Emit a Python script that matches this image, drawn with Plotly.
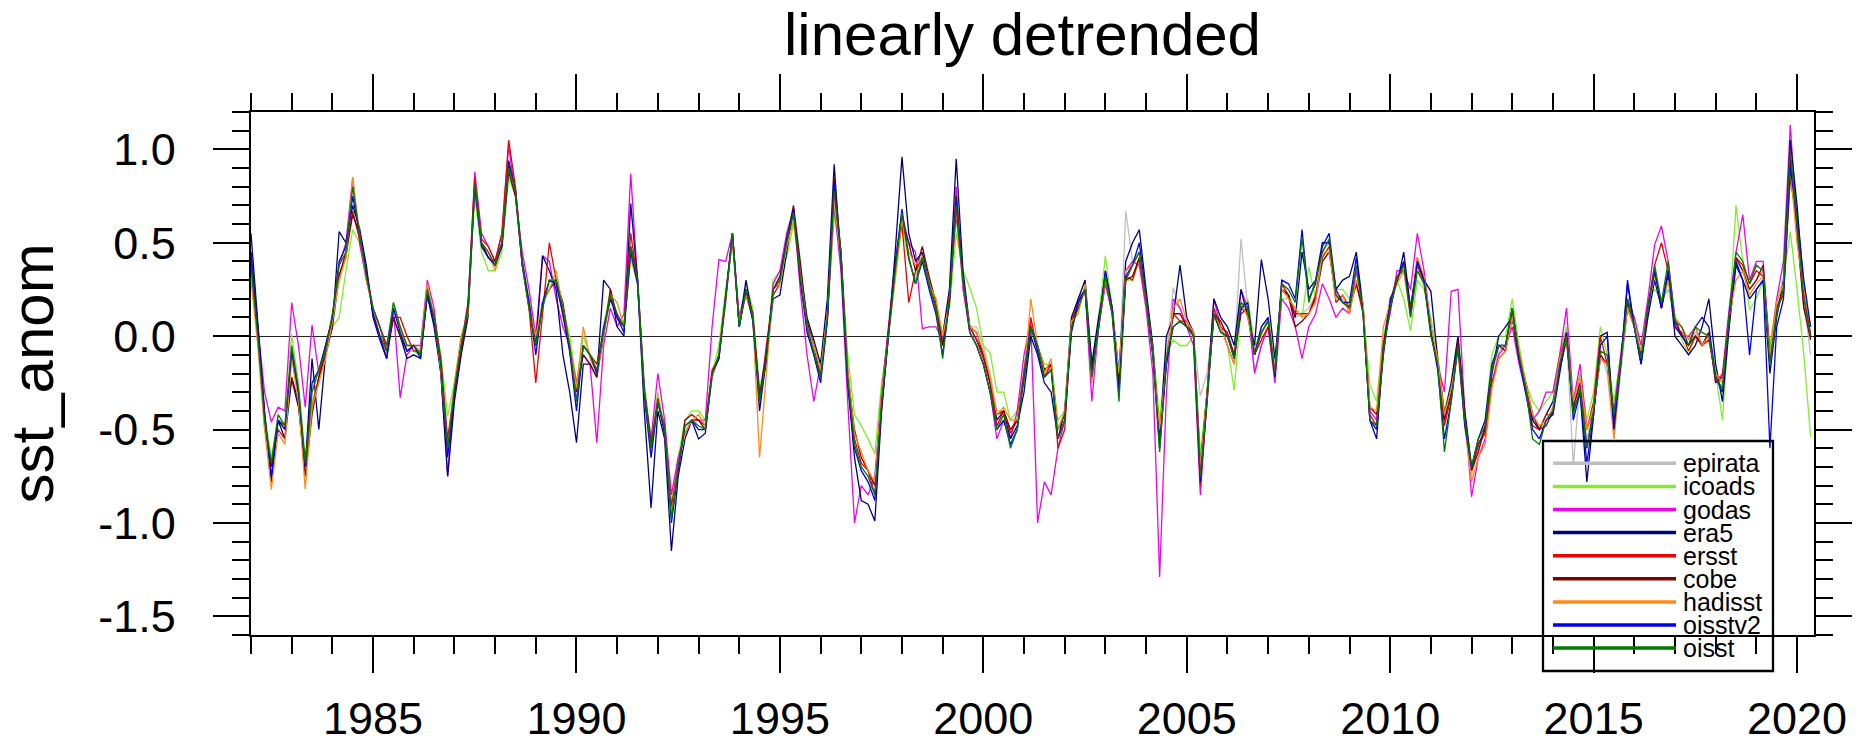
import numpy as np
import plotly.graph_objects as go

# ---------------- data (bi-monthly samples: Jan, Mar, May, Jul, Sep, Nov) ----------------
START_YEAR = 1982
STEP_MONTHS = 2

series_names = ["epirata", "icoads", "godas", "era5", "ersst", "cobe", "hadisst", "oisstv2", "oisst"]
series_colors = ["#BEBEBE", "#80EE2A", "#F000F0", "#00007F", "#EE0000", "#7F0000", "#FF8A1C", "#0000EE", "#007A00"]

epirata_start = 1999
epirata = [
    0.00, 0.25, 0.80, 0.30, 0.05, 0.05,
    -0.05, -0.20, -0.40, -0.40, -0.50, -0.45,
    -0.20, 0.05, -0.05, -0.20, -0.15, -0.55,
    -0.45, 0.05, 0.15, 0.25, -0.20, 0.05,
    0.32, 0.15, -0.25, 0.67, 0.40, 0.45,
    0.20, -0.10, -0.50, -0.10, 0.26, 0.15,
    0.05, 0.00, -0.32, -0.20, 0.12, 0.05,
    0.00, -0.10, 0.52, 0.15, -0.18, -0.05,
    0.05, -0.20, 0.30, 0.20, 0.10, 0.12,
    0.15, 0.22, 0.45, 0.50, 0.20, 0.20,
    0.15, 0.30, 0.15, -0.40, -0.45, -0.05,
    0.15, 0.30, 0.38, 0.12, 0.40, 0.30,
    0.05, -0.15, -0.45, -0.30, -0.05, -0.45,
    -0.75, -0.60, -0.50, -0.20, -0.08, -0.05,
    0.12, -0.10, -0.28, -0.45, -0.50, -0.45,
    -0.40, -0.15, 0.00, -0.69, -0.25, -0.55,
    -0.40, -0.08, -0.20, -0.55, -0.20, 0.15,
    0.05, -0.15, 0.10, 0.35, 0.15, 0.30,
    0.05, 0.00, -0.05, 0.02, -0.05, 0.00,
    -0.20, -0.25, 0.10, 0.40, 0.35, 0.25,
    0.30, 0.35, -0.10, 0.15, 0.25, 0.95,
    0.55, 0.20, -0.10,
]

icoads = [
    0.35, 0.00, -0.42, -0.65, -0.45, -0.50,
    0.01, -0.25, -0.65, -0.35, -0.25, -0.05,
    0.05, 0.10, 0.35, 0.57, 0.50, 0.35,
    0.12, 0.00, -0.05, 0.18, 0.05, -0.08,
    -0.08, -0.10, 0.22, 0.10, -0.10, -0.43,
    -0.25, 0.00, 0.12, 0.75, 0.45, 0.35,
    0.35, 0.45, 0.85, 0.75, 0.40, 0.20,
    0.00, 0.15, 0.30, 0.30, 0.15, 0.00,
    -0.25, 0.00, -0.10, -0.15, 0.05, 0.25,
    0.10, 0.05, 0.45, 0.30, -0.25, -0.55,
    -0.30, -0.50, -0.90, -0.65, -0.45, -0.40,
    -0.40, -0.45, -0.20, -0.05, 0.25, 0.50,
    0.10, 0.28, 0.15, -0.28, -0.10, 0.30,
    0.35, 0.42, 0.60, 0.35, 0.05, -0.05,
    -0.15, 0.10, 0.65, 0.45, -0.10, -0.42,
    -0.48, -0.55, -0.63, -0.25, 0.00, 0.30,
    0.60, 0.40, 0.30, 0.45, 0.30, 0.20,
    0.00, 0.15, 0.55, 0.35, 0.26, 0.15,
    -0.05, -0.09, -0.30, -0.30, -0.45, -0.40,
    -0.25, 0.05, -0.05, -0.15, -0.15, -0.45,
    -0.40, 0.10, 0.20, 0.30, -0.15, 0.10,
    0.43, 0.15, -0.20, 0.30, 0.30, 0.40,
    0.15, -0.05, -0.45, -0.10, -0.02, -0.05,
    -0.05, 0.00, -0.63, -0.30, 0.10, 0.05,
    -0.05, -0.29, 0.15, 0.20, -0.05, 0.00,
    0.10, -0.15, 0.20, 0.20, 0.15, 0.10,
    0.37, 0.20, 0.40, 0.45, 0.25, 0.25,
    0.20, 0.35, 0.15, -0.26, -0.35, 0.00,
    0.15, 0.30, 0.20, 0.03, 0.30, 0.25,
    0.10, -0.10, -0.40, -0.25, 0.00, -0.40,
    -0.70, -0.55, -0.45, -0.10, 0.00, 0.00,
    0.20, -0.05, -0.25, -0.35, -0.40, -0.35,
    -0.30, -0.10, 0.05, -0.35, -0.20, -0.45,
    -0.30, 0.05, -0.10, -0.35, -0.10, 0.15,
    0.10, -0.10, 0.20, 0.25, 0.20, 0.25,
    0.10, -0.02, -0.10, 0.00, -0.05, 0.02,
    -0.20, -0.45, 0.10, 0.70, 0.40, 0.14,
    0.20, 0.30, -0.05, 0.20, 0.30, 0.56,
    0.25, -0.10, -0.54,
]

godas = [
    0.45, 0.05, -0.30, -0.46, -0.38, -0.40,
    0.18, -0.05, -0.38, 0.06, -0.20, -0.10,
    0.10, 0.38, 0.50, 0.85, 0.50, 0.30,
    0.15, 0.05, -0.05, 0.15, -0.33, -0.10,
    -0.05, -0.05, 0.30, 0.15, -0.20, -0.75,
    -0.30, -0.08, 0.15, 0.88, 0.55, 0.48,
    0.40, 0.55, 1.02, 0.75, 0.45, 0.25,
    0.00, 0.43, 0.40, 0.20, 0.05, -0.05,
    -0.25, -0.10, -0.15, -0.57, -0.05, 0.15,
    0.05, 0.12, 0.87, 0.30, -0.30, -0.55,
    -0.20, -0.45, -0.85, -0.65, -0.52, -0.45,
    -0.45, -0.45, 0.05, 0.41, 0.40, 0.55,
    0.10, 0.25, 0.10, -0.30, -0.15, 0.28,
    0.35, 0.55, 0.68, 0.25, -0.10, -0.35,
    -0.15, 0.10, 0.70, 0.35, -0.35, -1.00,
    -0.80, -0.85, -0.75, -0.30, 0.05, 0.40,
    0.65, 0.50, 0.45, 0.04, 0.05, 0.05,
    -0.02, 0.20, 0.80, 0.25, 0.02, -0.05,
    -0.15, -0.30, -0.55, -0.45, -0.55, -0.40,
    -0.10, 0.08, -1.00, -0.78, -0.85, -0.60,
    -0.45, 0.05, 0.20, 0.25, -0.35, 0.05,
    0.28, 0.12, -0.30, 0.35, 0.40, 0.38,
    0.15, -0.20, -1.29, -0.30, 0.20, 0.15,
    0.05, -0.05, -0.85, -0.35, 0.20, 0.05,
    -0.05, -0.15, 0.25, 0.15, -0.20, -0.05,
    0.05, -0.25, 0.20, 0.15, 0.05, -0.12,
    0.05, 0.12, 0.28, 0.20, 0.10, 0.15,
    0.12, 0.35, 0.15, -0.40, -0.45, -0.05,
    0.12, 0.35, 0.35, 0.25, 0.55, 0.35,
    0.05, -0.15, -0.30, 0.24, 0.25, -0.40,
    -0.86, -0.65, -0.55, -0.25, -0.10, -0.05,
    0.05, -0.15, -0.30, -0.45, -0.40, -0.30,
    -0.30, -0.10, 0.15, -0.35, -0.15, -0.50,
    -0.40, -0.12, -0.15, -0.40, -0.10, 0.20,
    0.10, -0.05, 0.20, 0.49, 0.59, 0.40,
    0.10, 0.00, 0.00, 0.05, -0.05, 0.02,
    -0.25, -0.20, 0.15, 0.45, 0.65, 0.30,
    0.40, 0.40, -0.10, 0.20, 0.40, 1.13,
    0.60, 0.15, 0.05,
]

era5 = [
    0.55, 0.08, -0.40, -0.78, -0.45, -0.55,
    -0.23, -0.38, -0.70, -0.12, -0.50, -0.10,
    0.05, 0.56, 0.50, 0.70, 0.58, 0.38,
    0.10, -0.02, -0.12, 0.10, 0.00, -0.12,
    -0.10, -0.12, 0.22, 0.05, -0.20, -0.75,
    -0.35, -0.10, 0.10, 0.82, 0.50, 0.42,
    0.40, 0.50, 0.94, 0.78, 0.38, 0.15,
    -0.05, 0.43, 0.35, 0.25, -0.10, -0.30,
    -0.57, -0.15, -0.15, -0.22, 0.30, 0.25,
    0.05, 0.00, 0.71, 0.30, -0.40, -0.92,
    -0.40, -0.55, -1.15, -0.75, -0.55, -0.45,
    -0.55, -0.52, -0.20, -0.12, 0.22, 0.55,
    0.05, 0.30, 0.10, -0.40, -0.12, 0.20,
    0.22, 0.45, 0.68, 0.35, 0.10, -0.02,
    -0.15, 0.20, 0.92, 0.40, -0.25, -0.65,
    -0.88, -0.90, -0.99, -0.40, 0.00, 0.45,
    0.96, 0.55, 0.40, 0.45, 0.28, 0.15,
    0.00, 0.25, 0.95, 0.35, 0.05, -0.02,
    -0.10, -0.25, -0.45, -0.40, -0.55, -0.48,
    -0.30, 0.00, -0.10, -0.25, -0.30, -0.55,
    -0.40, 0.10, 0.20, 0.30, -0.15, 0.10,
    0.30, 0.15, -0.20, 0.40, 0.50, 0.57,
    0.25, -0.05, -0.55, 0.00, 0.10, 0.38,
    0.10, 0.02, -0.70, -0.30, 0.20, 0.10,
    0.05, -0.05, 0.25, 0.10, -0.05, 0.41,
    0.20, -0.12, 0.25, 0.22, 0.10, 0.45,
    0.25, 0.30, 0.50, 0.50, 0.25, 0.30,
    0.32, 0.45, 0.15, -0.45, -0.55, -0.05,
    0.20, 0.28, 0.45, 0.15, 0.40, 0.30,
    0.24, -0.12, -0.42, -0.25, 0.00, -0.40,
    -0.70, -0.58, -0.50, -0.20, 0.00, 0.05,
    0.10, -0.12, -0.25, -0.45, -0.50, -0.42,
    -0.35, -0.15, 0.00, -0.40, -0.30, -0.78,
    -0.42, 0.00, 0.02, -0.50, -0.15, 0.28,
    0.05, -0.15, 0.10, 0.30, 0.15, 0.35,
    0.00, -0.05, -0.10, -0.05, 0.05, 0.20,
    -0.15, -0.35, 0.05, 0.38, 0.30, 0.20,
    0.25, 0.30, -0.20, 0.10, 0.30, 1.05,
    0.70, 0.25, 0.00,
]

ersst = [
    0.38, 0.00, -0.48, -0.70, -0.50, -0.55,
    -0.08, -0.32, -0.70, -0.38, -0.22, -0.05,
    0.10, 0.33, 0.42, 0.67, 0.52, 0.35,
    0.15, 0.05, -0.05, 0.10, 0.10, 0.00,
    -0.08, -0.08, 0.22, 0.12, -0.12, -0.55,
    -0.28, -0.05, 0.18, 0.85, 0.52, 0.48,
    0.40, 0.55, 1.05, 0.80, 0.40, 0.15,
    -0.25, 0.12, 0.50, 0.30, 0.10, -0.08,
    -0.35, -0.05, -0.10, -0.15, 0.02, 0.20,
    0.10, 0.05, 0.55, 0.30, -0.30, -0.60,
    -0.33, -0.52, -0.92, -0.68, -0.52, -0.45,
    -0.45, -0.48, -0.18, -0.12, 0.18, 0.55,
    0.08, 0.22, 0.10, -0.35, -0.05, 0.22,
    0.28, 0.52, 0.68, 0.32, 0.05, -0.10,
    -0.22, 0.12, 0.78, 0.45, -0.18, -0.55,
    -0.68, -0.72, -0.85, -0.38, 0.02, 0.38,
    0.60, 0.18, 0.35, 0.42, 0.28, 0.15,
    -0.05, 0.22, 0.65, 0.28, 0.05, -0.02,
    -0.12, -0.25, -0.48, -0.40, -0.52, -0.45,
    -0.18, 0.10, -0.08, -0.22, -0.15, -0.60,
    -0.50, 0.08, 0.18, 0.25, -0.22, 0.05,
    0.30, 0.12, -0.28, 0.32, 0.30, 0.42,
    0.18, -0.10, -0.55, -0.12, 0.12, 0.08,
    0.08, 0.00, -0.80, -0.35, 0.15, 0.05,
    0.02, -0.10, 0.15, 0.12, -0.10, -0.02,
    0.05, -0.22, 0.28, 0.22, 0.12, 0.12,
    0.12, 0.22, 0.42, 0.48, 0.18, 0.22,
    0.15, 0.28, 0.12, -0.42, -0.48, -0.08,
    0.18, 0.32, 0.35, 0.15, 0.38, 0.28,
    0.05, -0.15, -0.48, -0.32, -0.05, -0.45,
    -0.72, -0.58, -0.52, -0.25, -0.12, -0.08,
    0.15, -0.10, -0.30, -0.48, -0.50, -0.42,
    -0.42, -0.12, 0.02, -0.38, -0.25, -0.50,
    -0.35, 0.00, -0.15, -0.42, -0.15, 0.15,
    0.05, -0.10, 0.15, 0.38, 0.50, 0.35,
    0.05, 0.02, -0.08, 0.00, -0.05, -0.02,
    -0.22, -0.22, 0.12, 0.42, 0.38, 0.28,
    0.35, 0.32, -0.12, 0.15, 0.22, 0.85,
    0.60, 0.25, 0.00,
]

cobe = [
    0.42, 0.05, -0.45, -0.70, -0.45, -0.48,
    -0.22, -0.35, -0.75, -0.42, -0.22, -0.10,
    0.05, 0.32, 0.45, 0.65, 0.55, 0.35,
    0.12, 0.00, -0.08, 0.10, 0.00, -0.08,
    -0.05, -0.10, 0.25, 0.08, -0.18, -0.62,
    -0.32, -0.08, 0.12, 0.80, 0.50, 0.42,
    0.38, 0.48, 0.88, 0.75, 0.38, 0.18,
    -0.05, 0.18, 0.25, 0.30, 0.18, -0.05,
    -0.30, -0.10, -0.15, -0.22, 0.00, 0.25,
    0.10, 0.05, 0.48, 0.32, -0.28, -0.58,
    -0.35, -0.48, -0.92, -0.72, -0.45, -0.42,
    -0.45, -0.50, -0.22, -0.10, 0.22, 0.52,
    0.05, 0.25, 0.12, -0.32, -0.10, 0.25,
    0.32, 0.50, 0.70, 0.40, 0.08, -0.05,
    -0.22, 0.10, 0.85, 0.45, -0.22, -0.50,
    -0.65, -0.72, -0.80, -0.32, 0.02, 0.38,
    0.62, 0.50, 0.35, 0.48, 0.32, 0.18,
    -0.05, 0.18, 0.75, 0.30, 0.05, 0.02,
    -0.10, -0.25, -0.42, -0.40, -0.50, -0.45,
    -0.22, 0.05, -0.05, -0.18, -0.15, -0.50,
    -0.42, 0.05, 0.18, 0.25, -0.18, 0.05,
    0.35, 0.15, -0.25, 0.30, 0.32, 0.42,
    0.22, -0.08, -0.52, -0.15, 0.12, 0.12,
    0.05, 0.02, -0.72, -0.30, 0.12, 0.08,
    0.00, -0.10, 0.12, 0.15, -0.10, 0.02,
    0.08, -0.20, 0.25, 0.22, 0.05, 0.08,
    0.12, 0.20, 0.40, 0.45, 0.22, 0.18,
    0.15, 0.28, 0.15, -0.38, -0.42, -0.05,
    0.15, 0.30, 0.40, 0.12, 0.42, 0.30,
    0.02, -0.15, -0.45, -0.30, -0.02, -0.42,
    -0.72, -0.62, -0.48, -0.18, -0.05, -0.08,
    0.10, -0.12, -0.25, -0.42, -0.50, -0.48,
    -0.40, -0.18, -0.02, -0.38, -0.25, -0.60,
    -0.40, -0.10, -0.15, -0.45, -0.15, 0.18,
    0.05, -0.10, 0.15, 0.35, 0.15, 0.32,
    0.08, 0.00, -0.05, 0.00, -0.05, 0.02,
    -0.25, -0.22, 0.08, 0.42, 0.35, 0.25,
    0.30, 0.38, -0.12, 0.15, 0.25, 0.95,
    0.55, 0.15, -0.02,
]

hadisst = [
    0.30, -0.05, -0.50, -0.82, -0.52, -0.58,
    -0.12, -0.35, -0.82, -0.38, -0.25, -0.12,
    0.08, 0.30, 0.42, 0.85, 0.55, 0.30,
    0.15, 0.00, -0.10, 0.15, 0.05, -0.05,
    -0.05, -0.08, 0.28, 0.10, -0.18, -0.62,
    -0.25, 0.00, 0.12, 0.80, 0.50, 0.45,
    0.35, 0.50, 0.92, 0.78, 0.40, 0.15,
    0.00, 0.18, 0.25, 0.35, 0.15, -0.05,
    -0.28, 0.05, -0.12, -0.20, 0.00, 0.22,
    0.18, 0.05, 0.42, 0.28, -0.30, -0.65,
    -0.35, -0.50, -0.95, -0.70, -0.52, -0.45,
    -0.42, -0.48, -0.22, -0.10, 0.22, 0.52,
    0.08, 0.22, 0.10, -0.65, -0.20, 0.25,
    0.28, 0.48, 0.62, 0.35, 0.05, -0.05,
    -0.18, 0.12, 0.72, 0.42, -0.18, -0.52,
    -0.62, -0.72, -0.78, -0.30, 0.00, 0.32,
    0.62, 0.45, 0.38, 0.42, 0.28, 0.20,
    0.00, 0.18, 0.68, 0.28, 0.05, 0.02,
    -0.08, -0.22, -0.42, -0.38, -0.45, -0.45,
    -0.22, 0.20, -0.05, -0.20, -0.12, -0.50,
    -0.40, 0.08, 0.12, 0.28, -0.25, 0.05,
    0.30, 0.15, -0.20, 0.35, 0.38, 0.45,
    0.20, -0.08, -0.50, -0.15, 0.15, 0.20,
    0.08, 0.02, -0.70, -0.30, 0.10, 0.05,
    -0.05, -0.15, 0.18, 0.10, -0.08, 0.05,
    0.10, -0.18, 0.25, 0.20, 0.15, 0.10,
    0.12, 0.18, 0.45, 0.45, 0.20, 0.22,
    0.12, 0.30, 0.18, -0.38, -0.40, 0.05,
    0.18, 0.28, 0.35, 0.10, 0.42, 0.32,
    0.05, -0.12, -0.42, -0.28, -0.08, -0.48,
    -0.78, -0.65, -0.58, -0.28, -0.12, -0.08,
    0.10, -0.08, -0.25, -0.42, -0.48, -0.45,
    -0.38, -0.12, -0.02, -0.35, -0.22, -0.50,
    -0.38, -0.12, -0.15, -0.55, -0.15, 0.15,
    0.05, -0.08, 0.15, 0.32, 0.18, 0.30,
    0.10, 0.05, -0.02, 0.05, -0.05, 0.00,
    -0.20, -0.25, 0.10, 0.30, 0.35, 0.22,
    0.28, 0.32, -0.10, 0.18, 0.28, 0.90,
    0.50, 0.25, 0.05,
]

oisstv2 = [
    0.45, 0.05, -0.42, -0.75, -0.45, -0.50,
    -0.08, -0.30, -0.70, -0.25, -0.18, -0.05,
    0.10, 0.40, 0.48, 0.75, 0.55, 0.35,
    0.12, 0.00, -0.12, 0.15, 0.02, -0.08,
    -0.05, -0.12, 0.22, 0.08, -0.15, -0.65,
    -0.30, -0.05, 0.15, 0.80, 0.48, 0.42,
    0.38, 0.48, 0.92, 0.78, 0.40, 0.18,
    -0.10, 0.18, 0.30, 0.28, 0.12, -0.08,
    -0.40, -0.05, -0.10, -0.20, 0.05, 0.20,
    0.10, 0.02, 0.45, 0.28, -0.32, -0.65,
    -0.35, -0.52, -1.00, -0.72, -0.48, -0.45,
    -0.50, -0.50, -0.20, -0.12, 0.20, 0.55,
    0.05, 0.25, 0.08, -0.35, -0.10, 0.25,
    0.30, 0.52, 0.68, 0.30, 0.02, -0.10,
    -0.25, 0.08, 0.82, 0.42, -0.25, -0.60,
    -0.72, -0.78, -0.88, -0.38, 0.00, 0.38,
    0.68, 0.42, 0.28, 0.40, 0.25, 0.12,
    -0.10, 0.18, 0.72, 0.30, 0.02, -0.05,
    -0.15, -0.30, -0.50, -0.45, -0.58, -0.50,
    -0.22, 0.05, -0.08, -0.22, -0.18, -0.55,
    -0.45, 0.02, 0.18, 0.25, -0.20, 0.05,
    0.35, 0.15, -0.30, 0.32, 0.38, 0.50,
    0.22, -0.10, -0.60, -0.15, 0.05, 0.08,
    0.05, 0.00, -0.78, -0.35, 0.12, 0.02,
    0.00, -0.12, 0.15, 0.18, -0.10, 0.05,
    0.10, -0.22, 0.30, 0.28, 0.20, 0.57,
    0.20, 0.28, 0.48, 0.55, 0.25, 0.18,
    0.18, 0.42, 0.12, -0.45, -0.50, -0.10,
    0.18, 0.30, 0.40, 0.12, 0.40, 0.30,
    0.02, -0.18, -0.55, -0.35, -0.05, -0.48,
    -0.70, -0.55, -0.45, -0.15, -0.05, -0.05,
    0.15, -0.12, -0.30, -0.50, -0.55, -0.45,
    -0.42, -0.20, 0.02, -0.45, -0.30, -0.68,
    -0.42, -0.05, 0.00, -0.50, -0.15, 0.30,
    0.05, -0.15, 0.15, 0.35, 0.15, 0.35,
    0.05, 0.00, -0.05, 0.05, 0.10, 0.05,
    -0.22, -0.30, 0.10, 0.40, 0.30, -0.10,
    0.25, 0.30, -0.60, 0.05, 0.20, 0.90,
    0.65, 0.30, 0.05,
]

oisst = [
    0.38, 0.00, -0.45, -0.68, -0.42, -0.48,
    -0.05, -0.28, -0.68, -0.30, -0.18, -0.08,
    0.12, 0.38, 0.45, 0.80, 0.55, 0.32,
    0.15, 0.05, -0.08, 0.18, 0.05, -0.05,
    -0.05, -0.10, 0.25, 0.10, -0.15, -0.60,
    -0.28, -0.05, 0.15, 0.82, 0.50, 0.45,
    0.38, 0.50, 0.90, 0.78, 0.38, 0.15,
    -0.05, 0.15, 0.30, 0.30, 0.15, -0.05,
    -0.35, -0.05, -0.10, -0.18, 0.02, 0.22,
    0.12, 0.05, 0.48, 0.30, -0.30, -0.60,
    -0.35, -0.50, -0.98, -0.70, -0.48, -0.45,
    -0.48, -0.50, -0.20, -0.10, 0.20, 0.55,
    0.05, 0.25, 0.10, -0.35, -0.12, 0.25,
    0.30, 0.50, 0.66, 0.32, 0.05, -0.08,
    -0.22, 0.10, 0.78, 0.45, -0.22, -0.58,
    -0.70, -0.75, -0.85, -0.35, 0.00, 0.35,
    0.66, 0.42, 0.28, 0.42, 0.28, 0.15,
    -0.12, 0.20, 0.70, 0.30, 0.02, -0.05,
    -0.15, -0.30, -0.50, -0.42, -0.60, -0.50,
    -0.20, 0.05, -0.05, -0.22, -0.18, -0.55,
    -0.45, 0.05, 0.15, 0.25, -0.22, 0.05,
    0.32, 0.12, -0.35, 0.30, 0.38, 0.45,
    0.20, -0.10, -0.62, -0.12, 0.05, 0.08,
    0.05, 0.00, -0.75, -0.35, 0.12, 0.02,
    0.00, -0.12, 0.18, 0.15, -0.10, 0.02,
    0.08, -0.20, 0.28, 0.25, 0.18, 0.53,
    0.18, 0.30, 0.45, 0.52, 0.22, 0.18,
    0.15, 0.38, 0.12, -0.45, -0.48, -0.08,
    0.15, 0.30, 0.38, 0.10, 0.35, 0.28,
    0.00, -0.15, -0.62, -0.35, -0.05, -0.45,
    -0.70, -0.55, -0.48, -0.18, -0.05, -0.05,
    0.15, -0.10, -0.28, -0.55, -0.58, -0.45,
    -0.40, -0.15, 0.00, -0.42, -0.28, -0.60,
    -0.40, -0.08, -0.10, -0.42, -0.15, 0.20,
    0.05, -0.12, 0.15, 0.38, 0.18, 0.40,
    0.08, 0.05, -0.05, 0.05, 0.02, 0.00,
    -0.22, -0.28, 0.12, 0.45, 0.40, 0.28,
    0.38, 0.35, -0.15, 0.12, 0.25, 1.00,
    0.60, 0.20, 0.00,
]

series_values = [epirata, icoads, godas, era5, ersst, cobe, hadisst, oisstv2, oisst]
series_starts = [epirata_start, START_YEAR, START_YEAR, START_YEAR, START_YEAR,
                 START_YEAR, START_YEAR, START_YEAR, START_YEAR]

x_tick_vals = [1985, 1990, 1995, 2000, 2005, 2010, 2015, 2020]
x_tick_text = ["1985", "1990", "1995", "2000", "2005", "2010", "2015", "2020"]
y_tick_vals = [1.0, 0.5, 0.0, -0.5, -1.0, -1.5]
y_tick_text = ["1.0", "0.5", "0.0", "-0.5", "-1.0", "-1.5"]

title_text = "linearly detrended"
y_title_text = "sst_anom"

# ---------------- figure geometry (pixels) ----------------
W, H = 1866, 743
ML, MR, MT, MB = 251, 52, 112, 108
PW, PH = W - ML - MR, H - MT - MB


def px_x(x):
    return (x - ML) / PW


def px_y(y):
    return (H - MB - y) / PH


FONT = "Liberation Sans, Arial, Helvetica, sans-serif"

fig = go.Figure()
for name, color, vals, start in zip(series_names, series_colors, series_values, series_starts):
    t = start + np.arange(len(vals)) * STEP_MONTHS / 12.0
    fig.add_trace(go.Scatter(x=t, y=vals, mode="lines", name=name,
                             line=dict(color=color, width=1.3), showlegend=False))

x_minor = list(range(1982, 2021))
y_minor = [round(v, 1) for v in np.arange(-1.6, 1.21, 0.1)]

fig.update_layout(
    width=W, height=H,
    margin=dict(l=ML, r=MR, t=MT, b=MB, pad=0, autoexpand=False),
    paper_bgcolor="white", plot_bgcolor="white",
    showlegend=False,
    font=dict(family=FONT, color="black"),
)

fig.update_xaxes(
    range=[1982, 2020.4167], automargin=False,
    tickmode="array", tickvals=x_tick_vals, ticktext=x_tick_text,
    ticks="outside", ticklen=36, tickwidth=2.3, tickcolor="black",
    showline=True, linewidth=2.3, linecolor="black", mirror="ticks",
    showgrid=False, zeroline=False,
    tickfont=dict(size=45, family=FONT, color="black"),
    ticklabelstandoff=7,
    minor=dict(tickmode="array", tickvals=x_minor, ticks="outside", ticklen=17,
               tickwidth=1.5, tickcolor="black", showgrid=False),
)
fig.update_yaxes(
    range=[-1.6, 1.2], automargin=False,
    tickmode="array", tickvals=y_tick_vals, ticktext=y_tick_text,
    ticks="outside", ticklen=36, tickwidth=2.3, tickcolor="black",
    showline=True, linewidth=2.3, linecolor="black", mirror="ticks",
    showgrid=False, zeroline=True, zerolinecolor="#222222", zerolinewidth=1.2,
    tickfont=dict(size=45, family=FONT, color="black"),
    ticklabelstandoff=28,
    minor=dict(tickmode="array", tickvals=y_minor, ticks="outside", ticklen=17,
               tickwidth=1.5, tickcolor="black", showgrid=False),
)

annotations = [
    dict(text=title_text, x=px_x(1022), y=px_y(35), xref="paper", yref="paper",
         xanchor="center", yanchor="middle", showarrow=False,
         font=dict(size=60, family=FONT, color="black")),
    dict(text=y_title_text, x=px_x(32), y=0.5, xref="paper", yref="paper",
         xanchor="center", yanchor="middle", showarrow=False, textangle=-90,
         font=dict(size=60, family=FONT, color="black")),
]

shapes = [
    dict(type="rect", xref="paper", yref="paper",
         x0=px_x(1543), x1=px_x(1773), y0=px_y(671), y1=px_y(441),
         line=dict(color="black", width=2.3), fillcolor="rgba(0,0,0,0)", layer="above"),
]
LEG_Y0, LEG_DY = 463.3, 23.1
for i, (name, color) in enumerate(zip(series_names, series_colors)):
    yy = LEG_Y0 + i * LEG_DY
    shapes.append(dict(type="line", xref="paper", yref="paper",
                       x0=px_x(1553), x1=px_x(1676), y0=px_y(yy), y1=px_y(yy),
                       line=dict(color=color, width=3.5), layer="above"))
    annotations.append(dict(text=name, x=px_x(1681), y=px_y(yy), xref="paper", yref="paper",
                            xanchor="left", yanchor="middle", showarrow=False,
                            font=dict(size=25, family=FONT, color="black")))

fig.update_layout(annotations=annotations, shapes=shapes)

fig.write_html("out.html")
